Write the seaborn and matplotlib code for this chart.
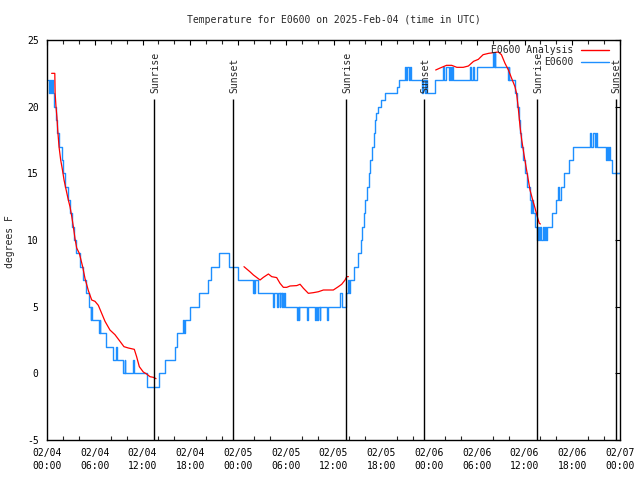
import numpy as np
import pandas as pd
import matplotlib
matplotlib.use("Agg")
import matplotlib.pyplot as plt
import seaborn as sns

# ---------------- data (hours since 2025-02-04 00:00 UTC) ----------------
obs_hours = [0.10, 0.30, 0.38, 0.48, 0.58, 0.70, 0.88, 1.08, 1.30, 1.50, 1.85, 1.97, 2.20, 2.60, 2.90,
             3.15, 3.35, 3.60, 4.20, 4.50, 4.95, 5.30, 5.50, 5.58, 5.68, 6.55, 6.62, 6.68, 7.40, 8.25,
             8.72, 8.80, 9.60, 9.78, 9.85, 10.80, 10.90, 12.60, 14.10, 14.80, 16.10, 16.30, 17.10, 17.18,
             17.30, 17.95, 19.10, 20.20, 20.55, 21.60, 22.90, 24.00,
             25.90, 25.97, 26.05, 26.12, 26.55, 28.44, 28.52, 28.90, 28.98, 29.25, 29.33, 29.50, 29.57,
             29.70, 29.78, 29.90, 31.45, 31.52, 31.62, 31.72, 32.70, 32.80, 33.65, 33.75, 33.95, 34.05,
             34.25, 34.33, 35.20, 35.30, 36.82, 37.05, 37.62, 37.80, 37.90, 38.05, 38.60, 39.05, 39.40,
             39.60, 39.85, 40.00, 40.20, 40.40, 40.62, 40.85, 41.05, 41.22, 41.36, 41.55, 41.95, 42.45,
             44.00, 44.25, 44.95, 45.10, 45.25, 45.45, 45.55, 45.70, 47.10, 47.30, 47.45, 47.60, 47.75,
             48.70, 49.80, 49.90, 50.15, 50.50, 50.60, 50.75, 50.85, 51.05, 53.20, 53.30, 53.55, 53.65,
             54.00, 56.10, 56.20, 56.25, 56.35, 57.77, 57.90, 58.00, 58.10, 58.80, 59.05, 59.30, 59.45,
             59.60, 59.85, 60.10, 60.35, 60.65, 60.85, 60.95, 61.05, 61.35, 61.60, 61.75, 61.85, 62.00,
             62.10, 62.30, 62.40, 62.55, 62.65, 62.80, 63.40, 64.00, 64.25, 64.35, 64.60, 64.95, 65.60,
             66.05, 68.25, 68.35, 68.55, 68.85, 68.95, 69.05, 70.30, 70.38, 70.50, 70.58, 70.70, 71.05,
             72.00]
obs_temp = [22, 21, 22, 21, 22, 21, 20, 19, 18, 17, 16, 15, 14, 13, 12,
            11, 10, 9, 8, 7, 6, 5, 4, 5, 4, 3, 4, 3, 2, 1,
            2, 1, 0, 1, 0, 1, 0, -1, 0, 1, 2, 3, 4, 3,
            4, 5, 6, 7, 8, 9, 8, 7,
            6, 7, 6, 7, 6, 5, 6, 5, 6, 5, 6, 5, 6,
            5, 6, 5, 4, 5, 4, 5, 4, 5, 4, 5, 4, 5,
            4, 5, 4, 5, 6, 5, 6, 7, 6, 7, 8, 9, 10,
            11, 12, 13, 14, 15, 16, 17, 18, 19, 19.5, 20, 20.5, 21,
            21.5, 22, 23, 22, 23, 22, 23, 22, 21, 22, 21, 22, 21,
            22, 23, 22, 23, 22, 23, 22, 23, 22, 23, 22, 23, 22,
            23, 24, 23, 24, 23, 23, 22, 23, 22, 21, 20, 19, 18,
            17, 16, 15, 14, 13, 12, 13, 12, 11, 10, 11, 10, 11,
            10, 11, 10, 11, 10, 11, 12, 13, 14, 13, 14, 15, 16,
            17, 18, 17, 18, 17, 18, 17, 16, 17, 16, 17, 16, 15,
            15]

ana_seg1_hours = [0.58, 0.98, 1.02, 1.13, 1.25, 1.34, 1.51, 1.72, 1.93, 2.14, 2.39, 2.68, 2.89, 3.10,
                  3.31, 3.52, 3.73, 4.06, 4.48, 4.78, 5.20, 5.62, 6.03, 6.45, 6.87, 7.29, 7.91, 8.54,
                  9.17, 9.67, 10.22, 10.97, 11.26, 11.60, 12.10, 12.52, 12.94, 13.36, 13.70]
ana_seg1_temp = [22.5, 22.5, 21.0, 20.0, 19.2, 18.3, 17.0, 16.0, 15.3, 14.5, 13.8, 13.0, 12.5, 11.8,
                 11.0, 10.1, 9.4, 9.0, 8.0, 7.1, 6.2, 5.5, 5.4, 5.1, 4.5, 3.9, 3.25, 2.9,
                 2.4, 2.0, 1.9, 1.8, 1.25, 0.5, 0.1, -0.05, -0.25, -0.3, -0.4]
ana_seg2_hours = [24.75, 25.50, 25.93, 26.77, 27.19, 27.82, 28.24, 28.86, 29.28, 29.70, 30.12, 30.54,
                  31.38, 31.80, 32.22, 32.84, 33.47, 34.10, 34.73, 35.98, 36.61, 37.03, 37.45, 37.66, 37.87]
ana_seg2_temp = [8.0, 7.62, 7.38, 7.0, 7.2, 7.45, 7.25, 7.18, 6.75, 6.45, 6.45, 6.55,
                 6.58, 6.68, 6.38, 6.0, 6.05, 6.12, 6.25, 6.25, 6.5, 6.68, 7.0, 7.25, 7.25]
ana_seg3_hours = [48.84, 49.40, 50.20, 50.85, 51.50, 52.30, 52.95, 53.60, 54.20, 54.80, 55.50, 56.10,
                  56.70, 57.10, 57.55, 57.98, 58.40, 58.80, 59.00, 59.20, 59.44, 59.65, 59.94, 60.19,
                  60.48, 60.69, 61.03, 61.32, 61.61, 61.86, 62.00]
ana_seg3_temp = [22.75, 22.9, 23.1, 23.1, 22.95, 22.95, 23.05, 23.4, 23.55, 23.9, 24.0, 24.05,
                 24.1, 23.9, 23.25, 22.75, 22.1, 21.5, 21.0, 20.0, 18.5, 17.5, 16.4, 15.5,
                 14.5, 13.75, 13.0, 12.4, 11.75, 11.25, 11.2]

sun_hours = [13.5, 23.4, 37.6, 47.4, 61.6, 71.5]
sun_labels = ["Sunrise", "Sunset", "Sunrise", "Sunset", "Sunrise", "Sunset"]

xtick_hours = [0, 6, 12, 18, 24, 30, 36, 42, 48, 54, 60, 66, 72]
xtick_labels = ["02/04\n00:00", "02/04\n06:00", "02/04\n12:00", "02/04\n18:00",
                "02/05\n00:00", "02/05\n06:00", "02/05\n12:00", "02/05\n18:00",
                "02/06\n00:00", "02/06\n06:00", "02/06\n12:00", "02/06\n18:00",
                "02/07\n00:00"]
yticks = [-5, 0, 5, 10, 15, 20, 25]

title = "Temperature for E0600 on 2025-Feb-04 (time in UTC)"
ylabel = "degrees F"
obs_name = "E0600"
ana_name = "E0600 Analysis"

# ---------------- styling ----------------
sns.set_theme(style="white")
plt.rcParams["font.family"] = ["DejaVu Sans Mono", "DejaVu Sans"]
FS = 7
BLUE = "#1e8fff"
RED = "#ff0000"

obs_df = pd.DataFrame({"hours": obs_hours, "temp": obs_temp})
ana_df = pd.concat([
    pd.DataFrame({"hours": ana_seg1_hours, "temp": ana_seg1_temp, "seg": 1}),
    pd.DataFrame({"hours": ana_seg2_hours, "temp": ana_seg2_temp, "seg": 2}),
    pd.DataFrame({"hours": ana_seg3_hours, "temp": ana_seg3_temp, "seg": 3}),
], ignore_index=True)

fig = plt.figure(figsize=(6.4, 4.8), dpi=100)
ax = fig.add_axes([47 / 640, 40 / 480, 573 / 640, 400 / 480])

sns.lineplot(data=obs_df, x="hours", y="temp", ax=ax, color=BLUE, lw=1.0,
             drawstyle="steps-post", estimator=None, sort=False, legend=False)
sns.lineplot(data=ana_df, x="hours", y="temp", units="seg", ax=ax, color=RED, lw=0.9,
             estimator=None, sort=False, legend=False)

sun_top = 20.6
ax.vlines(sun_hours, -5, sun_top, color="black", lw=1.0)
for h, lab in zip(sun_hours, sun_labels):
    ax.text(h + 0.1, 21.0, lab, rotation=90, ha="center", va="bottom", fontsize=FS)

ax.set_xlim(0, 72)
ax.set_ylim(-5, 25)
ax.set_xticks(xtick_hours)
ax.set_xticklabels(xtick_labels, fontsize=FS, linespacing=1.3)
ax.set_xticks(np.arange(0, 73, 2), minor=True)
ax.set_yticks(yticks)
ax.set_yticklabels([str(v) for v in yticks], fontsize=FS)
ax.tick_params(axis="both", which="major", direction="in", length=3.6, width=0.8,
               top=True, right=True, pad=6, colors="black")
ax.tick_params(axis="x", which="minor", direction="in", length=3.0, width=0.8,
               top=True, bottom=True)
ax.set_xlabel("")
ax.set_ylabel("")
for s in ax.spines.values():
    s.set_color("black")
    s.set_linewidth(1.0)

# legend (gnuplot style: right-aligned text, sample to the right)
for yy, name, col in [(0.976, ana_name, RED), (0.945, obs_name, BLUE)]:
    ax.text(0.918, yy, name, transform=ax.transAxes, ha="right", va="center", fontsize=FS)
    ax.plot([0.932, 0.981], [yy, yy], transform=ax.transAxes, color=col, lw=1.0)

fig.text(333.5 / 640, 1 - 20 / 480, title, ha="center", va="center", fontsize=FS)
fig.text(10 / 640, 1 - 242 / 480, ylabel, rotation=90, ha="center", va="center", fontsize=FS)

fig.savefig("out.png", dpi=100)
